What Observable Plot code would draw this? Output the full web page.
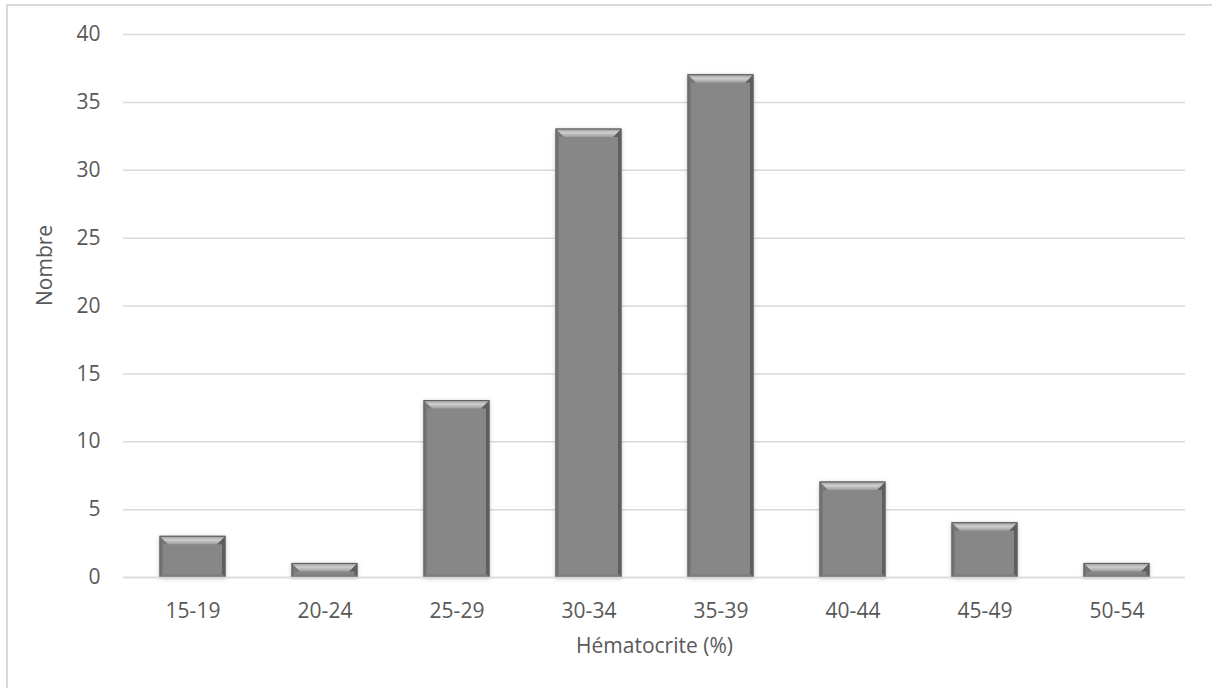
<!DOCTYPE html>
<html>
<head>
<meta charset="utf-8">
<script src="https://cdn.jsdelivr.net/npm/d3@7"></script>
<script src="https://cdn.jsdelivr.net/npm/@observablehq/plot@0.6"></script>
<style>
  html, body { margin: 0; padding: 0; background: #fff; }
  #wrap { position: relative; width: 1212px; height: 688px; overflow: hidden; }
  #border { position: absolute; left: 6px; top: 4px; width: 1300px; height: 800px;
            border-left: 2px solid #d9d9d9; border-top: 2px solid #d9d9d9; box-sizing: border-box; }
  #chart { position: absolute; left: 0; top: 0; }
</style>
</head>
<body>
<div id="wrap"><div id="border"></div><div id="chart"></div></div>
<script>
const categories = ["15-19", "20-24", "25-29", "30-34", "35-39", "40-44", "45-49", "50-54"];
const counts = [3, 1, 13, 33, 37, 7, 4, 1];
const yTicks = [0, 5, 10, 15, 20, 25, 30, 35, 40];
const xTitle = "Hématocrite (%)";
const yTitle = "Nombre";

const data = categories.map((c, i) => ({cat: c, n: counts[i]}));
const font = "'Open Sans', sans-serif";

const chart = Plot.plot({
  width: 1212,
  height: 688,
  marginLeft: 123,
  marginRight: 27,
  marginTop: 34,
  marginBottom: 111,
  style: {fontFamily: font, fontSize: "21px", color: "#595959", background: "transparent"},
  x: {domain: categories, paddingInner: 0.51, paddingOuter: 0.255, label: null},
  y: {domain: [0, 40], ticks: yTicks, label: null},
  marks: [
    Plot.gridY(yTicks, {stroke: "#d9d9d9", strokeOpacity: 1, strokeWidth: 1.5}),
    Plot.axisY(yTicks, {tickSize: 0, tickPadding: 23, fill: "#595959", fontSize: 21, label: null}),
    Plot.axisX({tickSize: 0, tickPadding: 26, fill: "#595959", fontSize: 21, label: null}),
    Plot.barY(data, {x: "cat", y: "n", fill: "#878787"}),
    Plot.ruleY([0], {stroke: "#d9d9d9", strokeWidth: 1.5}),
    Plot.text([xTitle], {frameAnchor: "bottom", dy: 69, fill: "#595959", fontSize: 21, lineAnchor: "middle"}),
    Plot.text([yTitle], {frameAnchor: "left", dx: -78, rotate: -90, fill: "#595959", fontSize: 21, lineAnchor: "middle"})
  ]
});

document.getElementById("chart").appendChild(chart);

// Bevel effect applied to the rendered bar rects
const svgNode = chart.tagName.toLowerCase() === "svg" ? chart : chart.querySelector("svg");
const svg = d3.select(svgNode);
const defs = svg.insert("defs", ":first-child");
const grad = defs.append("linearGradient").attr("id", "topBevel").attr("x1", 0).attr("y1", 0).attr("x2", 0).attr("y2", 1);
grad.append("stop").attr("offset", "0%").attr("stop-color", "#9a9a9a");
grad.append("stop").attr("offset", "45%").attr("stop-color", "#cfcfcf");
grad.append("stop").attr("offset", "100%").attr("stop-color", "#9c9c9c");
const filt = defs.append("filter").attr("id", "shadow").attr("x", "-20%").attr("y", "-20%").attr("width", "140%").attr("height", "140%");
filt.append("feDropShadow").attr("dx", 0).attr("dy", 1).attr("stdDeviation", 2).attr("flood-color", "#000").attr("flood-opacity", 0.25);

const rects = Array.from(svgNode.querySelectorAll('g[aria-label="bar"] rect'));
rects.forEach(node => {
  const r = d3.select(node);
  const x = +r.attr("x"), y = +r.attr("y"), w = +r.attr("width"), h = +r.attr("height");
  r.attr("stroke", "#6a6a6a").attr("stroke-width", 1).attr("filter", "url(#shadow)");
  const g = d3.select(node.parentNode);
  const b = Math.min(8, h * 0.6), s = Math.min(3, h * 0.2);
  const pts = a => a.map(p => p.join(",")).join(" ");
  // left side (thin strip + corner triangle)
  g.append("polygon").attr("points", pts([[x, y], [x + b, y + b], [x + s, y + b], [x + s, y + h - s], [x, y + h]])).attr("fill", "#767676");
  // right side
  g.append("polygon").attr("points", pts([[x + w, y], [x + w, y + h], [x + w - s, y + h - s], [x + w - s, y + b], [x + w - b, y + b]])).attr("fill", "#5e5e5e");
  // bottom
  g.append("polygon").attr("points", pts([[x, y + h], [x + w, y + h], [x + w - s, y + h - s], [x + s, y + h - s]])).attr("fill", "#7d7d7d");
  // top
  g.append("polygon").attr("points", pts([[x, y], [x + w, y], [x + w - b, y + b], [x + b, y + b]])).attr("fill", "url(#topBevel)");
  g.append("rect").attr("x", x).attr("y", y).attr("width", w).attr("height", h).attr("fill", "none").attr("stroke", "#5f5f5f").attr("stroke-width", 1);
});
</script>
</body>
</html>
